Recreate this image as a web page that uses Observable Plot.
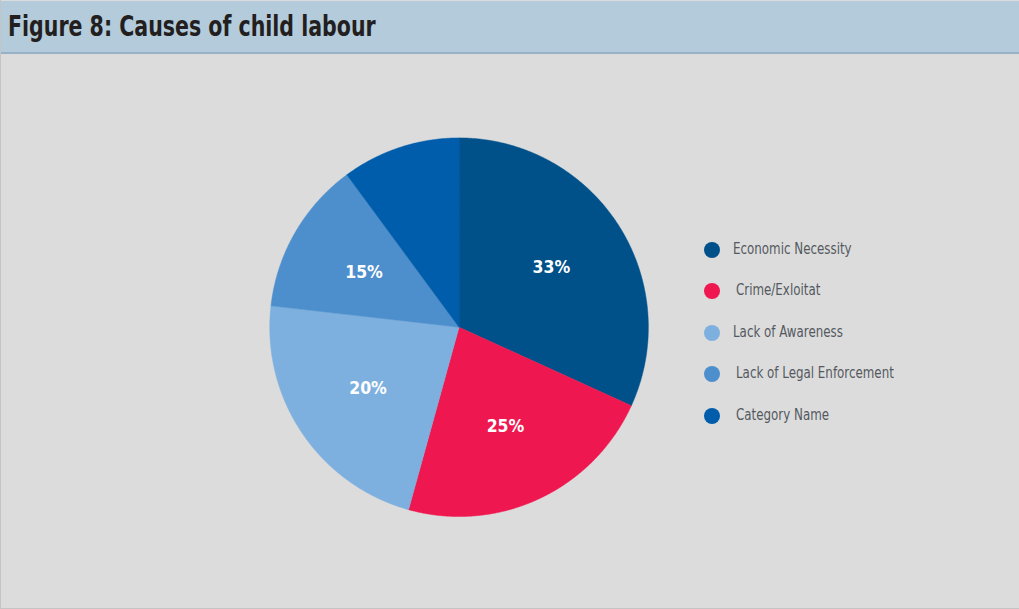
<!DOCTYPE html>
<html>
<head>
<meta charset="utf-8">
<script src="https://cdn.jsdelivr.net/npm/d3@7"></script>
<script src="https://cdn.jsdelivr.net/npm/@observablehq/plot@0.6"></script>
<style>
  html, body { margin: 0; padding: 0; background: #dcdcdc; }
  #wrap { position: relative; width: 1019px; height: 609px; overflow: hidden; background: #dcdcdc;
          border-left: 1px solid #c4c4c4; border-bottom: 1px solid #c4c4c4; box-sizing: border-box; }
  #title { position: absolute; left: 0; top: 1px; width: 1019px; height: 53px; background: #b3cbdb;
           border-bottom: 2px solid #97b2c6; box-sizing: border-box; }
  #title span { position: absolute; left: 7px; top: 0; line-height: 51px; white-space: nowrap;
           font-family: "DejaVu Sans Condensed", "Liberation Sans Narrow", sans-serif; font-weight: bold;
           font-size: 27.5px; color: #231f20; transform: scaleX(0.83); transform-origin: 0 50%; }
  #chart { position: absolute; left: 0; top: 54px; }
  #legend { position: absolute; left: 703px; top: 0; font-family: "DejaVu Sans Condensed", "Liberation Sans Narrow", sans-serif;
            font-size: 16.5px; color: #545960; }
  .item { position: absolute; white-space: nowrap; }
  .sw { position: absolute; width: 16px; height: 16px; border-radius: 50%; left: 0; }
  .lb { position: absolute; top: -11px; transform: scaleX(0.8); transform-origin: 0 50%; }
</style>
</head>
<body>
<div id="wrap">
  <div id="title"><span>Figure 8: Causes of child labour</span></div>
  <div id="chart"></div>
  <div id="legend"></div>
</div>
<script>
// Data
const categories = ["Economic Necessity", "Crime/Exloitat", "Lack of Awareness", "Lack of Legal Enforcement", "Category Name"];
const values = [31.8, 22.5, 22.5, 13.1, 10.1];
const labels = ["33%", "25%", "20%", "15%", ""];
const colors = ["#00508a", "#ee174f", "#7db0de", "#4d8fcc", "#005dab"];

// Build slices with d3.pie (angles clockwise from 12 o'clock)
const arcs = d3.pie().sort(null).value(d => d)(values);
const poly = [];
const labelPts = [];
arcs.forEach((a, i) => {
  const name = categories[i];
  poly.push({name, x: 0, y: 0});
  const n = Math.max(2, Math.ceil((a.endAngle - a.startAngle) / 0.005));
  for (let k = 0; k <= n; k++) {
    const t = a.startAngle + (a.endAngle - a.startAngle) * k / n;
    poly.push({name, x: Math.sin(t), y: Math.cos(t)});
  }
  const m = (a.startAngle + a.endAngle) / 2;
  labelPts.push({name, label: labels[i], x: 0.58 * Math.sin(m), y: 0.58 * Math.cos(m)});
});

const W = 1019, H = 555;
const cx = 458, cy = 273, R = 189.5;

const chart = Plot.plot({
  width: W,
  height: H,
  style: {background: "transparent", overflow: "visible"},
  x: {domain: [-1, 1], range: [cx - R, cx + R], axis: null},
  y: {domain: [-1, 1], range: [cy + R, cy - R], axis: null},
  color: {domain: categories, range: colors},
  marks: [
    Plot.line(poly, {x: "x", y: "y", z: "name", fill: "name", stroke: "name", strokeWidth: 0.5, curve: "linear-closed"}),
    Plot.text(labelPts, {x: "x", y: "y", text: "label", fill: "white", fontSize: 17.5, fontWeight: "bold",
      fontFamily: "DejaVu Sans Condensed, sans-serif"})
  ]
});
document.getElementById("chart").appendChild(chart);

// Legend
const legend = document.getElementById("legend");
const ys = [249.5, 291, 332.5, 374, 415.5];
const dx = [0, 3, 0, 3, 3];
categories.forEach((c, i) => {
  const it = document.createElement("div");
  it.className = "item";
  it.style.top = ys[i] + "px";
  it.innerHTML = `<span class="sw" style="background:${colors[i]};top:-8px"></span><span class="lb" style="left:${29 + dx[i]}px">${c}</span>`;
  legend.appendChild(it);
});
</script>
</body>
</html>
